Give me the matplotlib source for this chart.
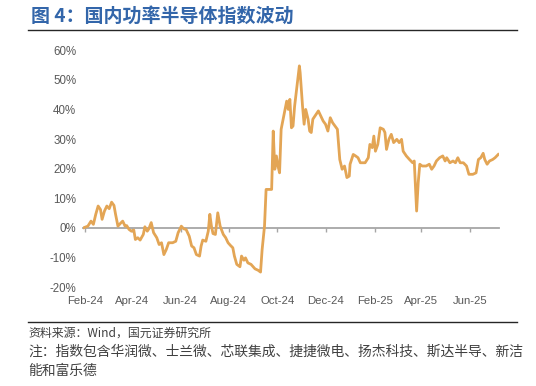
import numpy as np
import pandas as pd
import matplotlib
matplotlib.use('Agg')
import matplotlib.pyplot as plt
import matplotlib.dates as mdates
from matplotlib.ticker import FuncFormatter

plt.rcParams['font.family'] = ['Liberation Sans', 'Noto Sans CJK SC', 'DejaVu Sans']

start_date = '2024-02-01'
# days since start_date
day_offset = [-2, 4, 8, 11, 14, 17, 20, 22, 25, 28, 31, 34, 37, 39, 42, 45, 48, 51, 53, 56,
              59, 62, 64, 67, 70, 74, 76, 79, 81, 84, 87, 91, 94, 97, 100, 103, 106, 111, 115, 118,
              122, 125, 128, 132, 135, 138, 141, 145, 147, 149, 153, 156, 158, 160, 162, 165, 168, 171, 175, 178,
              181, 184, 187, 189, 192, 196, 198, 201, 203, 206, 210, 215, 219, 222, 224, 227, 229, 236, 238, 240,
              242, 244, 246, 248, 253, 255, 257, 259, 261, 263, 265, 268, 271, 272, 275, 277, 279, 282, 284, 286,
              288, 292, 295, 298, 301, 304, 307, 310, 313, 316, 319, 322, 325, 328, 331, 334, 335, 339, 342, 345,
              348, 354, 358, 360, 363, 365, 367, 370, 373, 377, 379, 381, 384, 387, 390, 394, 397, 400, 402, 406,
              410, 414, 416, 419, 421, 423, 426, 431, 435, 438, 441, 444, 448, 452, 455, 457, 461, 465, 468, 471,
              474, 478, 482, 485, 490, 494, 497, 500, 503, 505, 508, 511, 515, 518, 522]
# index change, %
change = [0.0, 0.6, 2.3, 1.2, 4.6, 7.4, 6.2, 2.9, 5.7, 7.4, 6.5, 8.7, 7.6, 4.6, 0.6, 1.5, 2.3, 0.6, 0.8, -0.5,
          -1.1, -0.7, -3.9, -3.3, -4.1, -2.2, 0.4, -1.1, -0.3, 1.8, -1.6, -3.3, -5.6, -5.0, -9.0, -7.3, -5.0, -5.0, -4.5, -1.6,
          0.6, -0.3, -0.5, -2.8, -6.1, -6.7, -9.0, -9.5, -6.1, -4.1, -4.5, -1.1, 4.6, 0.6, -1.9, -2.2, 5.1, 0.6, -2.2, -3.3,
          -5.0, -5.9, -6.7, -9.5, -12.3, -13.1, -9.5, -10.9, -10.1, -11.8, -12.3, -13.8, -14.3, -14.9, -7.3, 0.6, 13.0, 13.0, 32.7, 19.8,
          24.3, 20.9, 18.6, 33.3, 40.0, 42.8, 40.0, 43.4, 33.8, 34.4, 41.1, 47.9, 54.7, 52.4, 41.1, 35.0, 40.0, 36.7, 32.7, 32.2,
          36.7, 38.3, 39.5, 37.8, 36.1, 35.0, 32.7, 37.2, 35.5, 34.4, 33.3, 23.1, 19.8, 20.9, 17.0, 17.5, 21.5, 24.8, 24.3, 23.7,
          22.0, 22.0, 23.7, 28.2, 27.1, 31.0, 25.9, 28.2, 33.8, 33.3, 32.2, 26.5, 29.9, 31.6, 28.8, 29.9, 28.8, 29.9, 25.9, 24.3,
          23.1, 22.0, 22.6, 5.7, 15.3, 21.5, 20.9, 20.9, 21.5, 19.8, 20.9, 22.6, 23.7, 24.3, 22.6, 23.7, 22.0, 22.6, 22.0, 23.7,
          22.0, 22.0, 20.9, 18.1, 18.1, 18.6, 23.1, 23.7, 25.2, 23.1, 21.5, 22.6, 23.1, 23.7, 24.8]

title = '图 4：国内功率半导体指数波动'
source = '资料来源：Wind，国元证券研究所'
note_lines = ['注：指数包含华润微、士兰微、芯联集成、捷捷微电、扬杰科技、斯达半导、新洁',
              '能和富乐德']

dates = pd.Timestamp(start_date) + pd.to_timedelta(day_offset, unit='D')
values = np.array(change)

fig = plt.figure(figsize=(5.36, 3.86), dpi=100)
ax = fig.add_axes([0.155, 0.256, 0.776, 0.614])

ax.plot(dates, values, color='#E3A555', lw=2.0, solid_joinstyle='round')

ax.set_ylim(-20, 60)
ax.set_yticks(range(-20, 61, 10))
ax.yaxis.set_major_formatter(FuncFormatter(lambda v, p: f'{v:.0f}%'))
ax.set_xlim(dates[0], dates[-1] + pd.Timedelta(days=1))
ax.xaxis.set_major_locator(mdates.MonthLocator(bymonth=[2, 4, 6, 8, 10, 12]))
ax.xaxis.set_major_formatter(mdates.DateFormatter('%b-%y'))

for s in ['top', 'right', 'left']:
    ax.spines[s].set_visible(False)
ax.spines['bottom'].set_position(('data', 0))
ax.spines['bottom'].set_color('#A6A6A6')
ax.spines['bottom'].set_linewidth(1.3)
ax.spines['bottom'].set_zorder(1)

ax.tick_params(axis='y', length=0, pad=5, labelsize=8.3, labelcolor='#595959')
ax.tick_params(axis='x', length=3, width=1, color='#A6A6A6', pad=46,
               labelsize=8.2, labelcolor='#595959')

cjk = ['Noto Sans CJK SC', 'DejaVu Sans']
fig.text(31 / 536, 1 - 16 / 386, title, family=cjk,
         fontsize=13.7, fontweight='bold', color='#3366AA', va='center', ha='left')
fig.add_artist(plt.Line2D([28 / 536, 517 / 536], [1 - 30 / 386, 1 - 30 / 386],
                          color='#262626', lw=1.0))
fig.add_artist(plt.Line2D([28 / 536, 517 / 536], [1 - 322 / 386, 1 - 322 / 386],
                          color='#262626', lw=1.0))
fig.text(28 / 536, 1 - 333 / 386, source, family=cjk,
         fontsize=8.6, color='#404040', va='center', ha='left')
fig.text(28 / 536, 1 - 352 / 386, note_lines[0], family=cjk,
         fontsize=9.95, color='#404040', va='center', ha='left')
fig.text(28 / 536, 1 - 371 / 386, note_lines[1], family=cjk,
         fontsize=9.95, color='#404040', va='center', ha='left')

fig.savefig('out.png', dpi=100)
